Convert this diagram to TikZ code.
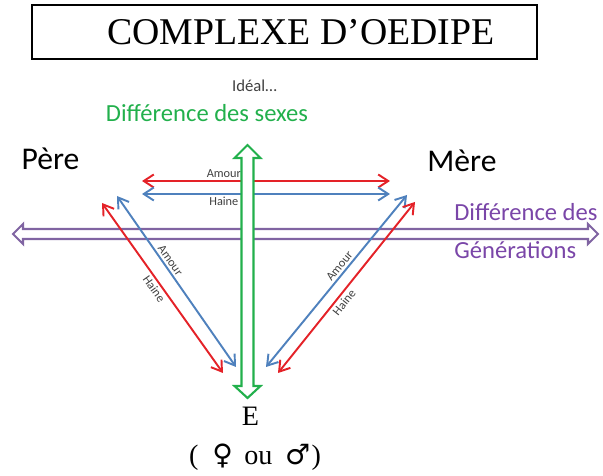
\documentclass[tikz,border=0pt]{standalone}
\usepackage{fontspec}
\setmainfont{Liberation Serif}
\newfontfamily\calibri{Carlito}
\newfontfamily\symb{DejaVu Sans}
\usepackage{xcolor}
\usepackage{tikz}
\usetikzlibrary{arrows.meta}
\definecolor{rouge}{HTML}{E42228}
\definecolor{bleu}{HTML}{4F81BD}
\definecolor{vert}{HTML}{22B04C}
\definecolor{violet}{HTML}{8064A2}
\definecolor{violettxt}{HTML}{7A46A8}
\definecolor{gris}{HTML}{404040}

\begin{document}
\begin{tikzpicture}[x=0.02cm, y=-0.02cm,
  titre/.style={draw, line width=1.2pt, minimum width=10.1cm, minimum height=1.08cm, font=\fontsize{21.5}{24}\selectfont},
  lab/.style={font=\calibri\fontsize{18}{20}\selectfont, anchor=base},
  lbl/.style={font=\calibri\fontsize{7}{8}\selectfont, text=gris, sloped, inner sep=1.2pt},
  fl/.style={{Straight Barb[length=2mm,width=2.6mm]}-{Straight Barb[length=2mm,width=2.6mm]}, line width=1.1pt},
  bloc/.style={line width=1.2pt, fill=white, line join=miter}
]
  \useasboundingbox (0,0) rectangle (603,476);

  \node[titre] (titre) at (284.5,32) {\hspace*{0.66cm}COMPLEXE D’OEDIPE};
  \node[font=\calibri\fontsize{9.5}{11}\selectfont, text=gris, anchor=base] (ideal) at (254.5,92) {Idéal…};
  \node[font=\calibri\fontsize{14}{16}\selectfont, text=vert, anchor=base] (sexes) at (207,122) {Différence des sexes};
  \node[lab] (pere) at (50.5,170) {Père};
  \node[lab] (mere) at (462,172) {Mère};
  \node[font=\calibri\fontsize{14}{22}\selectfont, text=violettxt, align=left, anchor=base west, inner sep=0pt] (gen) at (454,259) {Différence des\\Générations};
  \node[font=\fontsize{16}{18}\selectfont, anchor=base] (enfant) at (250.5,426) {E};
  \node[font=\fontsize{16}{18}\selectfont, anchor=base] (sexe) at (255,465)
    {(\hspace{0.5em}{\symb ♀}\hspace{0.4em}ou\hspace{0.45em}{\symb ♂}\hspace{0.05em})};

  % bouts des fleches
  \coordinate (hA1) at (142,181);
  \coordinate (hA2) at (390,181);
  \coordinate (hH1) at (142,194);
  \coordinate (hH2) at (390,194);
  \coordinate (gH1) at (102,203);
  \coordinate (gH2) at (223,373);
  \coordinate (gA1) at (117,196);
  \coordinate (gA2) at (236,367);
  \coordinate (dA1) at (266,367);
  \coordinate (dA2) at (407,195);
  \coordinate (dH1) at (278,373);
  \coordinate (dH2) at (415,202);

  % difference des generations
  \draw[bloc, draw=violet] (13,234) -- (23,224) -- (23,229) -- (588,229) -- (588,224) -- (598,234)
    -- (588,244) -- (588,239) -- (23,239) -- (23,244) -- cycle;

  \draw[fl, rouge] (hA1) -- (hA2) node[lbl, pos=.33, above] {Amour};
  \draw[fl, bleu] (hH1) -- (hH2) node[lbl, pos=.33, below] {Haine};
  \draw[fl, rouge] (gH1) -- (gH2) node[lbl, pos=.48, below] {Haine};
  \draw[fl, bleu] (gA1) -- (gA2) node[lbl, pos=.40, above] {Amour};
  \draw[fl, bleu] (dA1) -- (dA2) node[lbl, pos=.56, above] {Amour};
  \draw[fl, rouge] (dH1) -- (dH2) node[lbl, pos=.44, below] {Haine};

  % difference des sexes
  \draw[bloc, draw=vert] (247.5,145) -- (260.5,158) -- (253.5,158) -- (253.5,386) -- (260.5,386) -- (247.5,398)
    -- (234.5,386) -- (241.5,386) -- (241.5,158) -- (234.5,158) -- cycle;
\end{tikzpicture}
\end{document}
